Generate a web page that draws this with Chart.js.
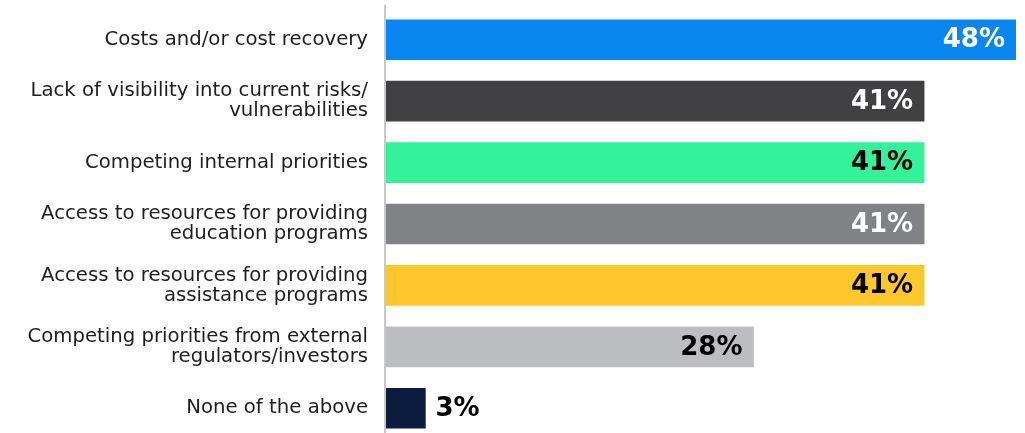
<!DOCTYPE html>
<html>
<head>
<meta charset="utf-8">
<script src="https://cdn.jsdelivr.net/npm/chart.js@4.4.0/dist/chart.umd.min.js"></script>
<style>
  html, body { margin: 0; padding: 0; background: #fff; overflow: hidden; }
  #wrap { width: 1025px; height: 446px; }
</style>
</head>
<body>
<div id="wrap"><canvas id="barChart"></canvas></div>
<script>
// categories (multi-line ones split into arrays)
var categories = [
  "Costs and/or cost recovery",
  ["Lack of visibility into current risks/", "vulnerabilities"],
  "Competing internal priorities",
  ["Access to resources for providing", "education programs"],
  ["Access to resources for providing", "assistance programs"],
  ["Competing priorities from external", "regulators/investors"],
  "None of the above"
];
var values = [48, 41, 41, 41, 41, 28, 3];
var barColors = ["#0a86f0", "#414143", "#33f299", "#808285", "#fec72b", "#bcbdc0", "#0b1c3e"];
var valueColors = ["#ffffff", "#ffffff", "#000000", "#ffffff", "#000000", "#000000", "#000000"];

// percent labels: inside the bar end, or just outside for short bars
var valueLabels = {
  id: "valueLabels",
  afterDatasetsDraw: function(chart) {
    var ctx = chart.ctx;
    var meta = chart.getDatasetMeta(0);
    ctx.save();
    ctx.font = "bold 26px 'DejaVu Sans'";
    ctx.textBaseline = "middle";
    meta.data.forEach(function(bar, i) {
      var txt = values[i] + "%";
      if (values[i] < 10) {
        ctx.textAlign = "left";
        ctx.fillStyle = "#000000";
        ctx.fillText(txt, bar.x + 10, bar.y + 1);
      } else {
        ctx.textAlign = "right";
        ctx.fillStyle = valueColors[i];
        ctx.fillText(txt, bar.x - 11, bar.y + 1);
      }
    });
    ctx.restore();
  }
};

// vertical axis line, a bit taller than the plot area
var axisLine = {
  id: "axisLine",
  beforeDatasetsDraw: function(chart) {
    var ctx = chart.ctx;
    var a = chart.chartArea;
    ctx.save();
    ctx.strokeStyle = "#c8c8c8";
    ctx.lineWidth = 2;
    ctx.beginPath();
    ctx.moveTo(a.left - 1, a.top - 4);
    ctx.lineTo(a.left - 1, a.bottom);
    ctx.stroke();
    ctx.restore();
  }
};

var ctx = document.getElementById("barChart").getContext("2d");
var chart = new Chart(ctx, {
  type: "bar",
  data: {
    labels: categories,
    datasets: [{
      data: values,
      backgroundColor: barColors,
      barThickness: 40,
      borderWidth: 0
    }]
  },
  options: {
    indexAxis: "y",
    responsive: true,
    maintainAspectRatio: false,
    animation: false,
    layout: { padding: { top: 9, right: 9, bottom: 7, left: 0 } },
    plugins: {
      legend: { display: false },
      tooltip: { enabled: false }
    },
    scales: {
      x: {
        display: false,
        min: 0,
        max: 48
      },
      y: {
        grid: { display: false, drawTicks: false },
        border: { display: false },
        ticks: {
          color: "#1e1e1e",
          padding: 18,
          font: { family: "DejaVu Sans", size: 19.7, lineHeight: "20px" }
        },
        afterFit: function(scale) {
          scale.width = 386;
          // no extra room for the first/last label
          scale.paddingTop = 0;
          scale.paddingBottom = 0;
        }
      }
    }
  },
  plugins: [axisLine, valueLabels]
});
</script>
</body>
</html>
